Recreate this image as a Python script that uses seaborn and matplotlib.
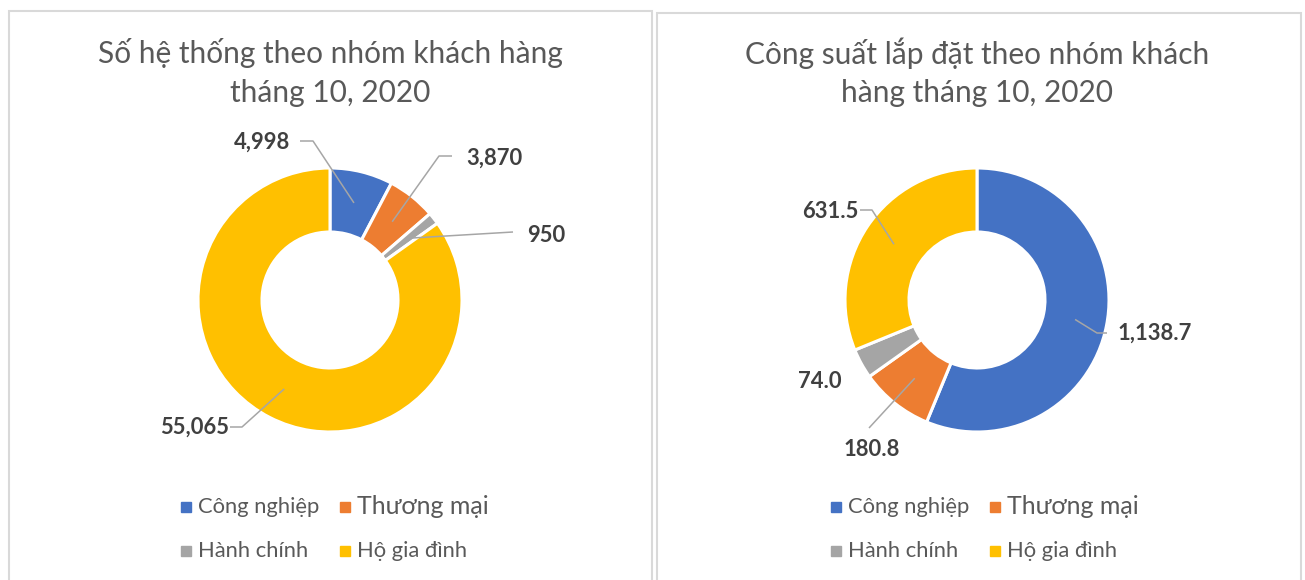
import matplotlib
matplotlib.use('Agg')
import matplotlib.pyplot as plt
from matplotlib.patches import Rectangle
import numpy as np
import seaborn as sns

# ============================================================
# DATA
# ============================================================
categories = ['Công nghiệp', 'Thương mại', 'Hành chính', 'Hộ gia đình']
so_he_thong = [4998, 3870, 950, 55065]
cong_suat = [1138.7, 180.8, 74.0, 631.5]
labels_left = ['4,998', '3,870', '950', '55,065']
labels_right = ['1,138.7', '180.8', '74.0', '631.5']
title_left = ['Số hệ thống theo nhóm khách hàng', 'tháng 10, 2020']
title_right = ['Công suất lắp đặt theo nhóm khách', 'hàng tháng 10, 2020']

# ============================================================
# STYLE
# ============================================================
sns.set_theme(style='white')
plt.rcParams['font.family'] = ['Lato', 'DejaVu Sans']
colors = sns.color_palette(['#4472C4', '#ED7D31', '#A5A5A5', '#FFC000'])
TXT = '#595959'
LBL = '#404040'
LEADER = '#A6A6A6'

W, H = 1305, 580
R_OUT, R_IN = 132, 68
R_MID = (R_OUT + R_IN) / 2

fig = plt.figure(figsize=(W / 100, H / 100), dpi=100)
ax = fig.add_axes([0, 0, 1, 1])


def py(y):
    # pixel row -> data y (origin at bottom)
    return H - y


def donut(values, cx, cy, labels, label_xy, leader_pts):
    ax.pie(values, colors=colors, startangle=90, counterclock=False,
           center=(cx, py(cy)), radius=R_OUT,
           wedgeprops=dict(width=R_OUT - R_IN, edgecolor='white', linewidth=2.2))
    vals = np.array(values, dtype=float)
    frac = vals / vals.sum()
    mids = np.cumsum(frac) - frac / 2
    for i, lab in enumerate(labels):
        theta = np.deg2rad(90 - mids[i] * 360)
        anchor = (cx + R_MID * np.cos(theta), py(cy) + R_MID * np.sin(theta))
        pts = leader_pts[i]
        if pts:
            xs = [p[0] for p in pts] + [anchor[0]]
            ys = [py(p[1]) for p in pts] + [anchor[1]]
            ax.plot(xs, ys, color=LEADER, lw=1.1, solid_capstyle='butt')
        lx, ly = label_xy[i]
        ax.text(lx, py(ly), lab, ha='center', va='center', fontsize=15.8,
                fontweight='bold', color=LBL)


def title(lines, cx):
    for k, line in enumerate(lines):
        ax.text(cx, py(53 + 40 * k), line, ha='center', va='center',
                fontsize=21.5, color=TXT)


def legend(x0, y0):
    # two rows x two columns, like the Excel legend
    pos = [(x0, y0), (x0 + 159, y0), (x0, y0 + 44), (x0 + 159, y0 + 44)]
    sizes = [15.8, 18, 15.8, 15.8]
    for i, cat in enumerate(categories):
        mx, my = pos[i]
        ax.plot([mx], [py(my)], marker='s', markersize=6.5, color=colors[i],
                linestyle='none')
        ax.text(mx + 12, py(my), cat, ha='left', va='center',
                fontsize=sizes[i], color=TXT)


# panel frames
ax.add_patch(Rectangle((9, py(600)), 643, 600 - 11, fill=False,
                       edgecolor='#D9D9D9', lw=1.5))
ax.add_patch(Rectangle((657, py(600)), 644, 600 - 13, fill=False,
                       edgecolor='#D9D9D9', lw=1.5))

# left chart
donut(so_he_thong, 330, 300, labels_left,
      [(262, 142), (494, 158), (546, 235), (195, 427)],
      [[(300, 141), (313, 141)], [(452, 156), (439, 156)],
       [(513, 232)], [(230, 427), (242, 427)]])
title(title_left, 330)
legend(186, 507)

# right chart
donut(cong_suat, 977, 300, labels_right,
      [(1155, 333), (872, 449), (820, 382), (830, 212)],
      [[(1107, 333), (1097, 333)], [(869, 428)], None,
       [(860, 210), (872, 210)]])
title(title_right, 977)
legend(836, 507)

ax.set_xlim(0, W)
ax.set_ylim(0, H)
ax.set_aspect('equal')
ax.axis('off')

fig.savefig('out.png', dpi=100, facecolor='white')
plt.close(fig)
